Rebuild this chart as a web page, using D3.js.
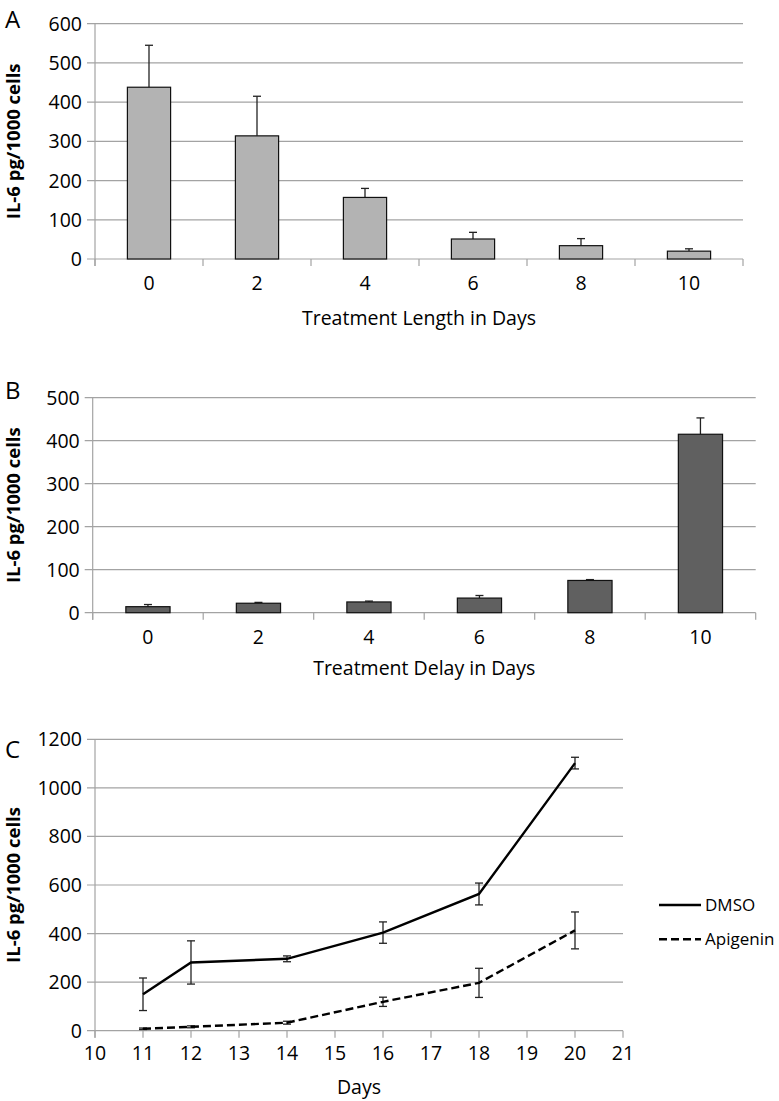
<!DOCTYPE html>
<html>
<head>
<meta charset="utf-8">
<script src="https://cdn.jsdelivr.net/npm/d3@7"></script>
<style>
  body { margin: 0; background: #fff; }
  svg text { font-family: "Open Sans", sans-serif; fill: #000; }
</style>
</head>
<body>
<svg id="fig" width="779" height="1101"></svg>
<script>
/* three panels of IL-6 data, A and B bars, C lines */

// panel A - treatment length
var lengthDays = ['0', '2', '4', '6', '8', '10'],
    lengthMean = [438, 314, 157, 51, 34, 20],
    lengthErr = [107, 101, 23, 17, 18, 6];

// panel B - treatment delay
var delayDays = ['0', '2', '4', '6', '8', '10'],
    delayMean = [14, 22, 25, 34, 75, 415],
    delayErr = [5, 2, 2, 6, 2, 38];

// panel C - time course
var courseDays = [11, 12, 14, 16, 18, 20],
    dmsoMean = [150, 281, 296, 404, 563, 1102],
    dmsoErr = [67, 89, 12, 44, 45, 24],
    apiMean = [8, 16, 33, 119, 197, 413],
    apiErr = [3, 4, 6, 19, 60, 76];

var yTicksA = [0, 100, 200, 300, 400, 500, 600],
    yTicksB = [0, 100, 200, 300, 400, 500],
    yTicksC = [0, 200, 400, 600, 800, 1000, 1200],
    xTicksC = [10, 11, 12, 13, 14, 15, 16, 17, 18, 19, 20, 21];

var gridColor = '#a3a3a3',
    fontSize = 19.5;

var svg = d3.select('#fig');

function yAxisGrid(g, y, ticks, left, right) {
  g.append('g')
    .selectAll('line')
    .data(ticks)
    .enter().append('line')
      .attr('x1', left - 8)
      .attr('x2', right)
      .attr('y1', function(d) { return y(d); })
      .attr('y2', function(d) { return y(d); })
      .attr('stroke', gridColor)
      .attr('stroke-width', 1.2);

  g.append('line')
    .attr('x1', left).attr('x2', left)
    .attr('y1', y(ticks[ticks.length - 1]))
    .attr('y2', y(0) + 7)
    .attr('stroke', gridColor)
    .attr('stroke-width', 1.2);

  g.append('g')
    .selectAll('text')
    .data(ticks)
    .enter().append('text')
      .attr('x', left - 13)
      .attr('y', function(d) { return y(d); })
      .attr('dy', '0.36em')
      .attr('text-anchor', 'end')
      .attr('font-size', fontSize)
      .text(function(d) { return d; });
}

function yTitle(cx, cy) {
  svg.append('text')
    .attr('transform', 'translate(' + cx + ',' + cy + ') rotate(-90)')
    .attr('text-anchor', 'middle')
    .attr('font-size', 18.5)
    .attr('font-weight', 'bold')
    .text('IL-6 pg/1000 cells');
}

function panelLetter(x, y, txt) {
  svg.append('text')
    .attr('x', x).attr('y', y)
    .attr('font-size', 24)
    .text(txt);
}

function barPanel(cats, means, errs, opt) {
  var g = svg.append('g');

  var x = d3.scaleBand()
    .domain(cats)
    .range([opt.left, opt.right])
    .padding(0);

  var y = d3.scaleLinear()
    .domain([0, opt.max])
    .range([opt.bottom, opt.top]);

  yAxisGrid(g, y, opt.ticks, opt.left, opt.right);

  // category separators like excel
  g.append('g')
    .selectAll('line')
    .data(cats.concat(['end']))
    .enter().append('line')
      .attr('x1', function(d, i) { return opt.left + i * x.step(); })
      .attr('x2', function(d, i) { return opt.left + i * x.step(); })
      .attr('y1', y(0))
      .attr('y2', y(0) + 7)
      .attr('stroke', gridColor)
      .attr('stroke-width', 1.2);

  var bw = x.bandwidth() * 0.4;

  // error bars (plus side only)
  var eb = g.append('g')
    .selectAll('g')
    .data(means)
    .enter().append('g')
      .attr('stroke', '#222')
      .attr('stroke-width', 1.3);

  eb.append('line')
    .attr('x1', function(d, i) { return x(cats[i]) + x.bandwidth() / 2; })
    .attr('x2', function(d, i) { return x(cats[i]) + x.bandwidth() / 2; })
    .attr('y1', function(d) { return y(d); })
    .attr('y2', function(d, i) { return y(d + errs[i]); });

  eb.append('line')
    .attr('x1', function(d, i) { return x(cats[i]) + x.bandwidth() / 2 - 4; })
    .attr('x2', function(d, i) { return x(cats[i]) + x.bandwidth() / 2 + 4; })
    .attr('y1', function(d, i) { return y(d + errs[i]); })
    .attr('y2', function(d, i) { return y(d + errs[i]); });

  g.append('g')
    .selectAll('rect')
    .data(means)
    .enter().append('rect')
      .attr('x', function(d, i) { return x(cats[i]) + (x.bandwidth() - bw) / 2; })
      .attr('y', function(d) { return y(d); })
      .attr('width', bw)
      .attr('height', function(d) { return y(0) - y(d); })
      .attr('fill', opt.fill)
      .attr('stroke', '#111')
      .attr('stroke-width', 1.2);

  g.append('g')
    .selectAll('text')
    .data(cats)
    .enter().append('text')
      .attr('x', function(d) { return x(d) + x.bandwidth() / 2; })
      .attr('y', y(0) + 24)
      .attr('dy', '0.36em')
      .attr('text-anchor', 'middle')
      .attr('font-size', fontSize)
      .text(function(d) { return d; });

  svg.append('text')
    .attr('x', (opt.left + opt.right) / 2)
    .attr('y', opt.titleY)
    .attr('dy', '0.36em')
    .attr('text-anchor', 'middle')
    .attr('font-size', fontSize)
    .text(opt.title);

  yTitle(20, (opt.top + opt.bottom) / 2);
}

// Panel A
panelLetter(5, 28, 'A');
barPanel(lengthDays, lengthMean, lengthErr, {
  left: 95, right: 743, top: 23.7, bottom: 259,
  max: 600, ticks: yTicksA, fill: '#b3b3b3',
  title: 'Treatment Length in Days', titleY: 318
});

// Panel B
panelLetter(5, 399, 'B');
barPanel(delayDays, delayMean, delayErr, {
  left: 92.7, right: 755.7, top: 397.7, bottom: 612.7,
  max: 500, ticks: yTicksB, fill: '#606060',
  title: 'Treatment Delay in Days', titleY: 668
});

// Panel C
panelLetter(5, 758, 'C');

var gC = svg.append('g'),
    leftC = 95, rightC = 623, topC = 739.3, bottomC = 1030.7;

var xC = d3.scaleLinear()
  .domain([10, 21])
  .range([leftC, rightC]);

var yC = d3.scaleLinear()
  .domain([0, 1200])
  .range([bottomC, topC]);

yAxisGrid(gC, yC, yTicksC, leftC, rightC);

gC.append('g')
  .selectAll('line')
  .data(xTicksC)
  .enter().append('line')
    .attr('x1', function(d) { return xC(d); })
    .attr('x2', function(d) { return xC(d); })
    .attr('y1', yC(0))
    .attr('y2', yC(0) + 7)
    .attr('stroke', gridColor)
    .attr('stroke-width', 1.2);

gC.append('g')
  .selectAll('text')
  .data(xTicksC)
  .enter().append('text')
    .attr('x', function(d) { return xC(d); })
    .attr('y', yC(0) + 22)
    .attr('dy', '0.36em')
    .attr('text-anchor', 'middle')
    .attr('font-size', fontSize)
    .text(function(d) { return d; });

var series = [
  { name: 'DMSO', mean: dmsoMean, err: dmsoErr, dash: null },
  { name: 'Apigenin', mean: apiMean, err: apiErr, dash: '8,4' }
];

var line = d3.line()
  .x(function(d) { return xC(d[0]); })
  .y(function(d) { return yC(d[1]); });

series.forEach(function(s) {
  var pts = courseDays.map(function(d, i) { return [d, s.mean[i], s.err[i]]; });

  var eg = gC.append('g')
    .selectAll('g')
    .data(pts)
    .enter().append('g')
      .attr('stroke', '#222')
      .attr('stroke-width', 1.3);

  eg.append('line')
    .attr('x1', function(d) { return xC(d[0]); })
    .attr('x2', function(d) { return xC(d[0]); })
    .attr('y1', function(d) { return yC(d[1] - d[2]); })
    .attr('y2', function(d) { return yC(d[1] + d[2]); });

  [-1, 1].forEach(function(sign) {
    eg.append('line')
      .attr('x1', function(d) { return xC(d[0]) - 4; })
      .attr('x2', function(d) { return xC(d[0]) + 4; })
      .attr('y1', function(d) { return yC(d[1] + sign * d[2]); })
      .attr('y2', function(d) { return yC(d[1] + sign * d[2]); });
  });

  gC.append('path')
    .datum(pts)
    .attr('d', line)
    .attr('fill', 'none')
    .attr('stroke', '#000')
    .attr('stroke-width', 2.4)
    .attr('stroke-dasharray', s.dash);
});

svg.append('text')
  .attr('x', (leftC + rightC) / 2)
  .attr('y', 1087)
  .attr('dy', '0.36em')
  .attr('text-anchor', 'middle')
  .attr('font-size', fontSize)
  .text('Days');

yTitle(20, (topC + bottomC) / 2);

// legend
var legend = svg.append('g')
  .selectAll('g')
  .data(series)
  .enter().append('g')
    .attr('transform', function(d, i) {
      return 'translate(659,' + (905 + i * 34.3) + ')';
    });

legend.append('line')
  .attr('x1', 0).attr('x2', 42)
  .attr('stroke', '#000')
  .attr('stroke-width', 2.4)
  .attr('stroke-dasharray', function(d) { return d.dash; });

legend.append('text')
  .attr('x', 46)
  .attr('dy', '0.36em')
  .attr('font-size', 17)
  .text(function(d) { return d.name; });
</script>
</body>
</html>
